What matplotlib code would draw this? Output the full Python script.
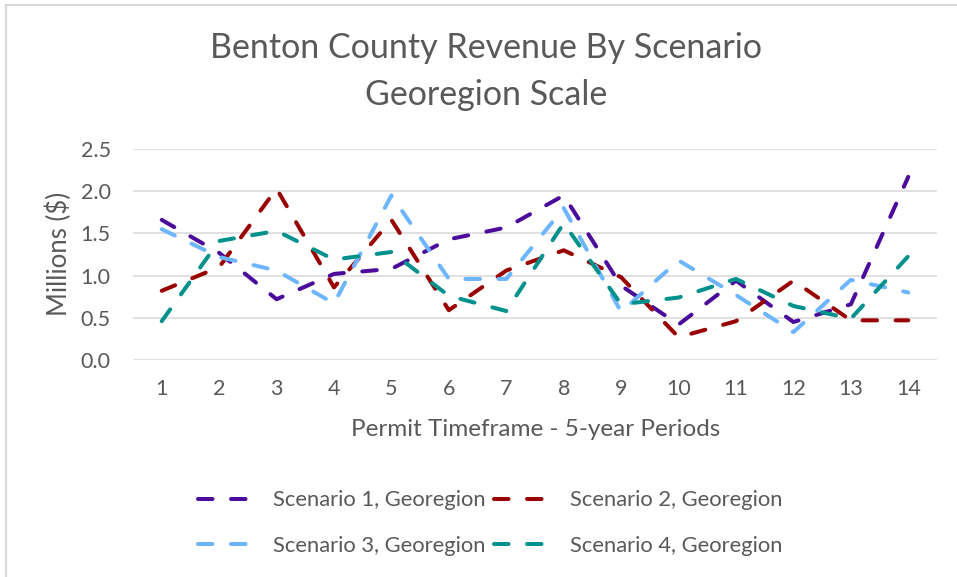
import matplotlib
matplotlib.use("Agg")
import matplotlib.pyplot as plt
from matplotlib.lines import Line2D

periods = list(range(1, 15))
scenario1 = [1.66, 1.27, 0.72, 1.02, 1.08, 1.43, 1.57, 1.95, 0.88, 0.42, 0.94, 0.45, 0.66, 2.17]
scenario2 = [0.82, 1.10, 2.03, 0.86, 1.66, 0.59, 1.06, 1.30, 0.98, 0.27, 0.46, 0.94, 0.47, 0.47]
scenario3 = [1.55, 1.22, 1.06, 0.67, 1.95, 0.96, 0.96, 1.80, 0.57, 1.18, 0.77, 0.33, 0.95, 0.80]
scenario4 = [0.46, 1.41, 1.53, 1.19, 1.28, 0.76, 0.58, 1.62, 0.66, 0.74, 0.96, 0.64, 0.49, 1.23]
labels = ["Scenario 1, Georegion", "Scenario 2, Georegion",
          "Scenario 3, Georegion", "Scenario 4, Georegion"]
colors = ["#4B0C9B", "#990000", "#6DB6FF", "#00918C"]
yticks = [0.0, 0.5, 1.0, 1.5, 2.0, 2.5]

plt.rcParams['font.family'] = ['Lato', 'DejaVu Sans']
txt = "#595959"

W, H = 957, 577
fig = plt.figure(figsize=(W / 100, H / 100), dpi=100)
ax = fig.add_axes([133 / W, (H - 360) / H, (937 - 133) / W, (360 - 149) / H])

lines = []
for vals, c, lab in zip([scenario1, scenario2, scenario3, scenario4], colors, labels):
    ln, = ax.plot(periods, vals, color=c, lw=2.9, linestyle=(0, (3.6, 4.6)),
                  dash_capstyle='round', solid_capstyle='round', label=lab)
    lines.append(ln)

ax.set_xlim(0.5, 14.5)
ax.set_ylim(0, 2.5)
ax.set_yticks(yticks)
ax.set_yticklabels([f"{v:.1f}" for v in yticks])
ax.set_xticks(periods)
ax.grid(axis='y', color='#D9D9D9', lw=1.1)
ax.set_axisbelow(True)
for s in ax.spines.values():
    s.set_visible(False)
ax.tick_params(axis='both', length=0, labelsize=15.5, colors=txt)
ax.tick_params(axis='x', pad=14)
ax.tick_params(axis='y', pad=16)

fig.text(59 / W, 1 - 254 / H, "Millions ($)", rotation=90, ha='center', va='center',
         fontsize=18.5, color=txt)
fig.text(536 / W, 1 - 430 / H, "Permit Timeframe - 5-year Periods", ha='center', va='center',
         fontsize=17.5, color=txt)
fig.text(486 / W, 1 - 48 / H, "Benton County Revenue By Scenario", ha='center', va='center',
         fontsize=24.5, color=txt)
fig.text(486 / W, 1 - 95 / H, "Georegion Scale", ha='center', va='center',
         fontsize=24.5, color=txt)

order = [0, 2, 1, 3]
fig.legend([lines[i] for i in order], [labels[i] for i in order], loc='center',
           bbox_to_anchor=(490 / W, 1 - 523 / H), ncol=2,
           frameon=False, fontsize=15.8, labelcolor=txt, handlelength=2.9,
           handletextpad=0.55, columnspacing=0.37, labelspacing=1.15)

# chart border
fig.add_artist(Line2D([6 / W, 6 / W], [0, 1 - 5 / H], color='#D9D9D9', lw=1.5))
fig.add_artist(Line2D([6 / W, 1], [1 - 5 / H, 1 - 5 / H], color='#D9D9D9', lw=1.5))

fig.savefig("out.png", dpi=100)
